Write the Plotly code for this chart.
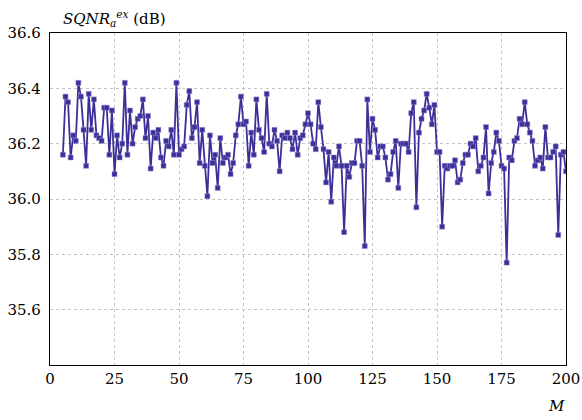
import plotly.graph_objects as go

M = list(range(5, 201))
sqnr = [
    36.16, 36.37, 36.35, 36.15, 36.23, 36.21, 36.42, 36.37, 36.25, 36.12,  # 5-14
    36.38, 36.25, 36.36, 36.23, 36.22, 36.21, 36.33, 36.33, 36.16, 36.32,  # 15-24
    36.09, 36.23, 36.15, 36.20, 36.42, 36.16, 36.32, 36.20, 36.26, 36.29,  # 25-34
    36.30, 36.36, 36.22, 36.30, 36.11, 36.24, 36.22, 36.25, 36.15, 36.12,  # 35-44
    36.21, 36.19, 36.25, 36.16, 36.42, 36.16, 36.18, 36.19, 36.34, 36.39,  # 45-54
    36.22, 36.26, 36.35, 36.13, 36.25, 36.12, 36.01, 36.23, 36.13, 36.16,  # 55-64
    36.04, 36.22, 36.13, 36.15, 36.16, 36.09, 36.13, 36.23, 36.27, 36.37,  # 65-74
    36.27, 36.28, 36.12, 36.24, 36.16, 36.36, 36.25, 36.22, 36.17, 36.38,  # 75-84
    36.20, 36.19, 36.25, 36.21, 36.10, 36.23, 36.22, 36.24, 36.22, 36.18,  # 85-94
    36.24, 36.16, 36.22, 36.23, 36.27, 36.31, 36.27, 36.20, 36.18, 36.35,  # 95-104
    36.26, 36.18, 36.06, 36.17, 35.99, 36.15, 36.12, 36.19, 36.12, 35.88,  # 105-114
    36.12, 36.08, 36.13, 36.13, 36.21, 36.21, 36.12, 35.83, 36.36, 36.17,  # 115-124
    36.29, 36.25, 36.15, 36.19, 36.19, 36.15, 36.07, 36.09, 36.17, 36.21,  # 125-134
    36.04, 36.20, 36.20, 36.20, 36.17, 36.31, 36.35, 35.97, 36.24, 36.29,  # 135-144
    36.32, 36.38, 36.33, 36.27, 36.34, 36.17, 36.17, 35.90, 36.12, 36.11,  # 145-154
    36.12, 36.12, 36.14, 36.06, 36.07, 36.13, 36.16, 36.16, 36.20, 36.19,  # 155-164
    36.22, 36.10, 36.12, 36.15, 36.26, 36.02, 36.13, 36.17, 36.24, 36.21,  # 165-174
    36.12, 36.11, 35.77, 36.15, 36.14, 36.21, 36.22, 36.29, 36.27, 36.35,  # 175-184
    36.27, 36.24, 36.21, 36.12, 36.14, 36.15, 36.11, 36.26, 36.15, 36.15,  # 185-194
    36.17, 36.19, 35.87, 36.16, 36.17, 36.10,                              # 195-200
]
assert len(M) == len(sqnr)

x_ticks = [0, 25, 50, 75, 100, 125, 150, 175, 200]
y_ticks = [35.6, 35.8, 36.0, 36.2, 36.4, 36.6]
y_labels = ["35.6", "35.8", "36.0", "36.2", "36.4", "36.6"]

color = "#3b2f98"
font = "DejaVu Serif"

fig = go.Figure()
fig.add_trace(go.Scatter(
    x=M, y=sqnr, mode="lines+markers",
    line=dict(color=color, width=1.8),
    marker=dict(symbol="square", size=5, color=color,
                line=dict(color="rgba(150,140,210,0.8)", width=0.6)),
    showlegend=False,
))

axis_common = dict(
    showline=True, linecolor="black", linewidth=1.2, mirror=True,
    showgrid=True, gridcolor="#c4c4c4", griddash="dot", gridwidth=1,
    zeroline=False, ticks="", automargin=False,
    tickfont=dict(family=font, size=15, color="black"),
)
fig.update_xaxes(range=[0, 200], tickvals=x_ticks, **axis_common)
fig.update_yaxes(range=[35.4, 36.6], tickvals=y_ticks, ticktext=y_labels,
                 ticklabelstandoff=5, **axis_common)

fig.update_layout(
    width=582, height=420,
    margin=dict(l=50, r=16, t=33, b=55),
    paper_bgcolor="white", plot_bgcolor="white",
    font=dict(family=font, color="black"),
    annotations=[
        dict(text="<i>SQNR</i><sub><i>a</i></sub><sup><i>ex</i></sup> (dB)",
             xref="paper", yref="paper", x=0.022, y=1.0, xanchor="left",
             yanchor="bottom", yshift=2, showarrow=False,
             font=dict(family=font, size=15, color="black")),
        dict(text="<i>M</i>", xref="paper", yref="paper", x=0.982, y=0,
             xanchor="center", yanchor="top", yshift=-30, showarrow=False,
             font=dict(family=font, size=15, color="black")),
    ],
)

fig.write_html("out.html")
